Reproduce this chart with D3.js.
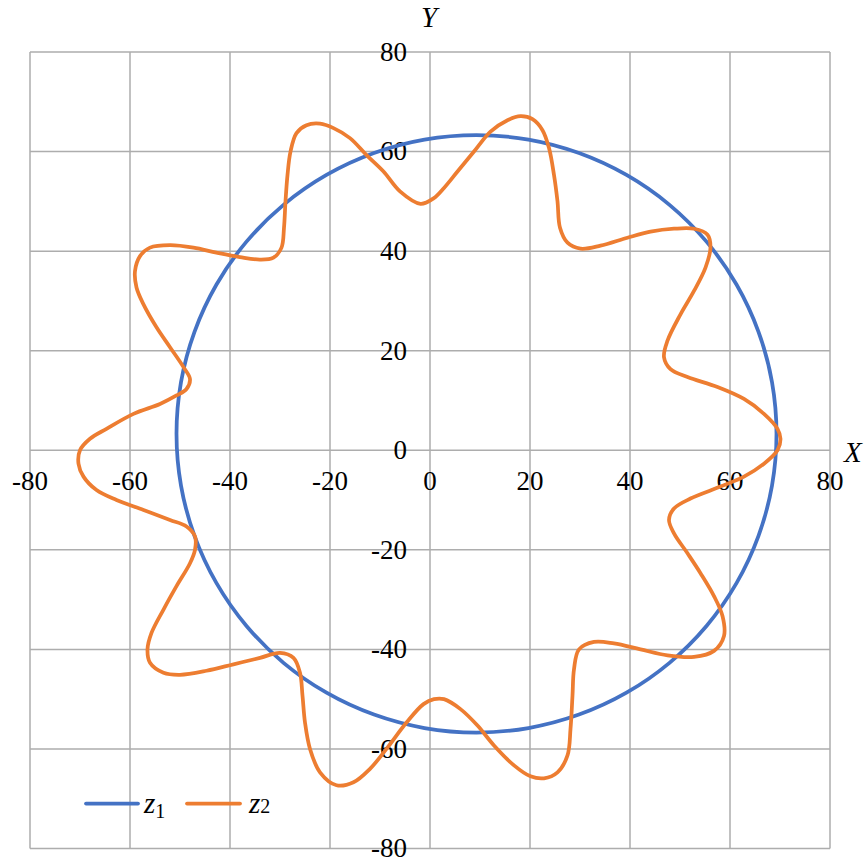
<!DOCTYPE html>
<html>
<head>
<meta charset="utf-8">
<script src="https://cdn.jsdelivr.net/npm/d3@7/dist/d3.min.js"></script>
<style>
  html, body { margin: 0; padding: 0; background: #fff; }
  svg { display: block; }
</style>
</head>
<body>
<svg id="chart" width="868" height="859"></svg>
<script>
// Tick values shared by both axes
const tickValues = [-80, -60, -40, -20, 0, 20, 40, 60, 80];

// z1: circle-like closed curve, sampled points [x, y]
const z1 = [
  [69.3, 3.3], [68.4, 13.7], [65.7, 23.8], [61.3, 33.3], [55.3, 41.9], [47.9, 49.3],
  [39.3, 55.3], [29.8, 59.7], [19.7, 62.4], [9.3, 63.3], [-1.1, 62.4], [-11.2, 59.7],
  [-20.7, 55.3], [-29.3, 49.3], [-36.7, 41.9], [-42.7, 33.3], [-47.1, 23.8], [-49.8, 13.7],
  [-50.7, 3.3], [-49.8, -7.1], [-47.1, -17.2], [-42.7, -26.7], [-36.7, -35.3], [-29.3, -42.7],
  [-20.7, -48.7], [-11.2, -53.1], [-1.1, -55.8], [9.3, -56.7], [19.7, -55.8], [29.8, -53.1],
  [39.3, -48.7], [47.9, -42.7], [55.3, -35.3], [61.3, -26.7], [65.7, -17.2], [68.4, -7.1]
];

// z2: nine-lobed closed curve, sampled points [x, y]
const z2 = [
  [0.7, 50.6], [-1.9, 49.5], [-6, 52], [-9.3, 56], [-12.7, 59.3], [-16, 62.7], [-19.3, 64.7],
  [-22, 65.6], [-24.7, 65.3], [-26.7, 63.7], [-27.9, 60], [-28.5, 55.3], [-28.9, 50],
  [-29.2, 44.7], [-29.7, 40.7], [-31.3, 38.7], [-34, 38.3], [-38, 38.8], [-42.7, 39.7],
  [-47.3, 40.7], [-52, 41.2], [-56, 40.7], [-58, 39], [-59, 36], [-58.7, 32.7], [-57.3, 29.3],
  [-54.7, 24.7], [-52, 20.7], [-49.3, 16.7], [-48, 14.3], [-48.7, 12.3], [-50.7, 11],
  [-54, 9.3], [-59.3, 7.3], [-64.7, 4.3], [-68, 2.3], [-70, 0], [-70.3, -2.7], [-69.3, -5.3],
  [-66.7, -8], [-62.7, -10], [-57.3, -12], [-52, -14], [-48.7, -15.3], [-47, -17.3],
  [-47, -20], [-48, -22.7], [-50.7, -27.3], [-53.3, -32], [-55.7, -36.7], [-56.5, -40],
  [-56, -42.7], [-53.3, -44.7], [-50, -45.1], [-44.7, -44.3], [-39.3, -43], [-34, -41.7],
  [-30, -40.7], [-27.3, -41.7], [-26, -44.7], [-25.5, -49.3], [-25, -54.7], [-24, -60],
  [-22, -64.7], [-18.7, -67.3], [-15.3, -66.7], [-12, -64], [-8.7, -60], [-4.7, -54.7],
  [-1.3, -51], [0.8, -50], [2.8, -50], [6.1, -52], [9.5, -55.3], [12.8, -59.3], [16.8, -63.3],
  [20.1, -65.5], [22.8, -65.9], [25.5, -64.7], [27.5, -61.3], [28.1, -56], [28.5, -49.3],
  [28.8, -44], [29.8, -40], [32.8, -38.5], [36.8, -38.8], [42.1, -40], [47.5, -41.2],
  [52.8, -41.5], [56.8, -40.3], [58.8, -37.3], [58.5, -33.3], [56.8, -29.3], [54.1, -24.7],
  [51.5, -20.7], [48.8, -16.7], [47.8, -14], [48.8, -11.7], [52.1, -9.7], [58.1, -7.3],
  [62.8, -5.3], [66.8, -2.7], [69.5, 0], [70.1, 2.3], [69.5, 4.3], [66.8, 7.3], [62.8, 10.3],
  [57.5, 12.7], [51.5, 14.7], [48.1, 16.3], [46.8, 18.7], [47.5, 22], [50.1, 27.3],
  [52.8, 32], [55.1, 36.7], [56.1, 40.7], [55.5, 43.3], [52.8, 44.5], [48.8, 44.5],
  [44.1, 43.9], [39.5, 42.7], [34.1, 41.1], [30.1, 40.5], [27.5, 41.7], [26, 44.7],
  [25.5, 50], [24.8, 55.3], [23.8, 60.7], [22.5, 64.3], [20.5, 66.5], [18.1, 67.1],
  [15.5, 66.3], [12.1, 64], [8.8, 60], [5.5, 56], [2.8, 52.7]
];

const seriesColors = { z1: "#4472C4", z2: "#ED7D31" };
const serif = "'Liberation Serif', Tinos, 'Times New Roman', Times, 'DejaVu Serif', serif";

const svg = d3.select("#chart").attr("font-family", serif);
const x = d3.scaleLinear().domain([-80, 80]).range([30, 830]);
const y = d3.scaleLinear().domain([-80, 80]).range([848.5, 52]);

// Grid (including the frame and the zero lines)
const grid = svg.append("g").attr("stroke", "#ADADAD").attr("stroke-width", 1.5);
grid.selectAll("line.v").data(tickValues).join("line")
  .attr("class", "v")
  .attr("x1", d => x(d)).attr("x2", d => x(d))
  .attr("y1", y(80)).attr("y2", y(-80));
grid.selectAll("line.h").data(tickValues).join("line")
  .attr("class", "h")
  .attr("y1", d => y(d)).attr("y2", d => y(d))
  .attr("x1", x(-80)).attr("x2", x(80));

// Tick labels along the axes through the origin
svg.append("g").selectAll("text").data(tickValues).join("text")
  .attr("font-family", serif)
  .attr("x", d => x(d))
  .attr("y", y(0) + 40)
  .attr("text-anchor", "middle")
  .attr("font-size", 27)
  .text(d => d);

svg.append("g").selectAll("text").data(tickValues).join("text")
  .attr("font-family", serif)
  .attr("x", x(0) - 23)
  .attr("y", d => y(d))
  .attr("dy", "0.33em")
  .attr("text-anchor", "end")
  .attr("font-size", 27)
  .text(d => d);

// Axis titles
svg.append("text").attr("x", 844).attr("y", 462).attr("font-family", serif)
  .attr("font-size", 29).attr("font-style", "italic").text("X");
svg.append("text").attr("x", 421).attr("y", 27).attr("font-family", serif)
  .attr("font-size", 29).attr("font-style", "italic").text("Y");

// Curves
const line = d3.line()
  .x(d => x(d[0]))
  .y(d => y(d[1]))
  .curve(d3.curveCatmullRomClosed.alpha(0.5));

svg.append("path").datum(z1)
  .attr("d", line)
  .attr("fill", "none")
  .attr("stroke", seriesColors.z1)
  .attr("stroke-width", 3.75);

svg.append("path").datum(z2)
  .attr("d", line)
  .attr("fill", "none")
  .attr("stroke", seriesColors.z2)
  .attr("stroke-width", 3.75)
  .attr("stroke-linejoin", "round");

// Legend
const legend = svg.append("g").attr("font-family", serif);
legend.append("line").attr("x1", 86).attr("x2", 138).attr("y1", 803.5).attr("y2", 803.5)
  .attr("stroke", seriesColors.z1).attr("stroke-width", 3.75).attr("stroke-linecap", "round");
const t1 = legend.append("text").attr("x", 144).attr("y", 813).attr("font-size", 29);
t1.append("tspan").attr("font-style", "italic").text("z");
t1.append("tspan").attr("font-size", 20).attr("dy", 5).text("1");

legend.append("line").attr("x1", 187).attr("x2", 240).attr("y1", 803.5).attr("y2", 803.5)
  .attr("stroke", seriesColors.z2).attr("stroke-width", 3.75).attr("stroke-linecap", "round");
const t2 = legend.append("text").attr("x", 249).attr("y", 813).attr("font-size", 29);
t2.append("tspan").attr("font-style", "italic").text("z");
t2.append("tspan").attr("font-size", 20).text("2");
</script>
</body>
</html>
